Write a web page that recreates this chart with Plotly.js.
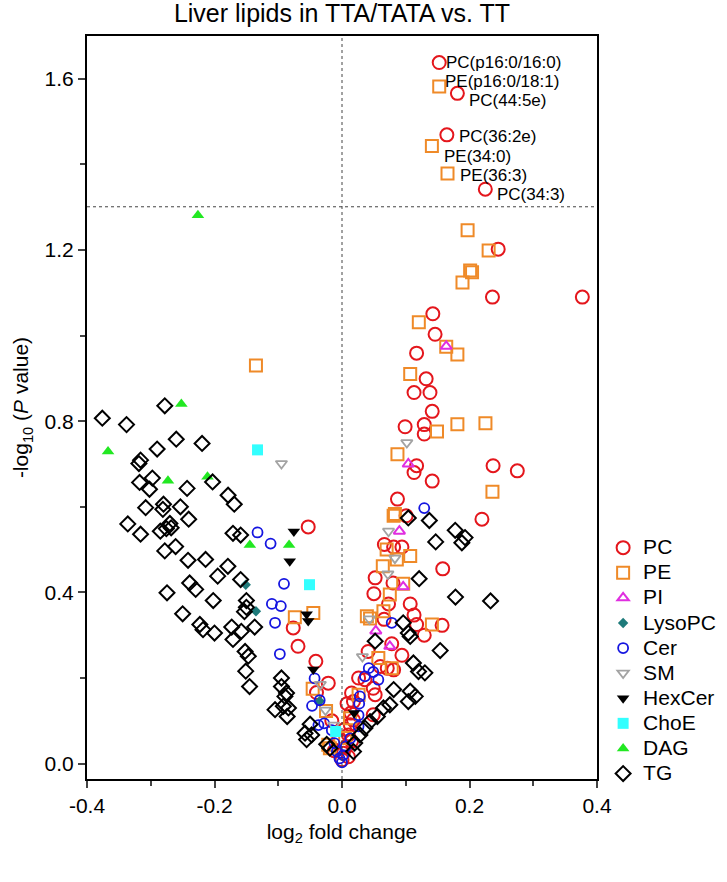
<!DOCTYPE html>
<html><head><meta charset="utf-8">
<script src="https://cdn.plot.ly/plotly-3.0.1.min.js"></script>
<style>html,body{margin:0;padding:0;background:#fff}#chart{width:727px;height:882px}</style>
</head><body><div id="chart"></div>
<script>
// ---- data (log2 fold change, -log10 P) ----
const pcX = [0.1525,0.181,0.1645,0.2248,0.245,0.236,0.377,0.1425,0.146,0.117,0.132,0.113,0.138,0.1415,
 0.099,0.129,0.129,0.117,0.113,0.237,0.275,0.1415,0.087,0.1006,0.2195,0.0665,0.081,0.094,0.158,0.052,0.080,0.050,
 0.073,0.107,0.113,0.066,0.117,0.129,0.157,0.078,0.094,0.041,0.060,0.071,0.081,0.026,0.036,0.049,0.052,0.015,0.018,0.049,0.014,0.018,0.013,0.010,0.015,0.007,0.002,0.010,0.000,
 -0.053,-0.0765,-0.069,-0.041,-0.0215,-0.040,-0.005,-0.012,-0.016,0.008,0.004];
const pcY = [1.638,1.566,1.469,1.342,1.202,1.090,1.090,1.051,1.003,0.959,0.899,0.867,0.867,0.823,
 0.787,0.792,0.770,0.696,0.680,0.696,0.684,0.660,0.618,0.579,0.571,0.512,0.506,0.506,0.455,0.434,0.422,0.397,
 0.373,0.373,0.347,0.337,0.325,0.300,0.323,0.280,0.253,0.262,0.227,0.223,0.219,0.200,0.196,0.176,0.161,0.165,0.145,0.114,0.118,0.102,0.091,0.067,0.052,0.040,0.024,0.016,0.009,
 0.553,0.317,0.274,0.239,0.188,0.166,0.060,0.030,0.100,0.140,0.080];
const peX = [0.1525,0.141,0.1655,0.197,0.230,0.201,0.204,0.189,0.1205,0.1635,0.181,0.107,
 0.149,0.181,0.225,0.087,0.236,0.083,0.081,0.070,0.107,0.086,0.064,0.096,0.075,
 0.039,0.044,0.065,0.141,0.078,0.057,0.026,0.0126,0.005,
 -0.135,-0.074,-0.045,-0.046,-0.025,-0.0215,-0.019];
const peY = [1.582,1.443,1.379,1.246,1.199,1.152,1.148,1.124,1.031,0.974,0.956,0.910,
 0.776,0.793,0.795,0.723,0.635,0.583,0.579,0.500,0.485,0.477,0.461,0.420,0.395,
 0.344,0.339,0.356,0.325,0.223,0.247,0.161,0.106,0.060,
 0.930,0.342,0.352,0.175,0.123,0.044,0.036];
const piX = [0.1635,0.104,0.090,0.096,0.053,0.075];
const piY = [0.975,0.700,0.543,0.413,0.310,0.274];
const lysoX = [-0.151,-0.135,-0.035];
const lysoY = [0.418,0.356,0.146];
const cerX = [-0.1325,-0.112,-0.091,-0.110,-0.096,-0.105,-0.0975,-0.043,-0.035,-0.047,-0.037,-0.028,-0.016,-0.012,-0.008,-0.004,0.000,
 0.129,0.078,0.042,0.049,0.057,0.036,0.028,0.027,0.026,0.026,0.013,0.006,0.002];
const cerY = [0.540,0.514,0.420,0.373,0.368,0.329,0.256,0.199,0.148,0.135,0.090,0.094,0.078,0.048,0.028,0.012,0.003,
 0.597,0.329,0.223,0.214,0.196,0.204,0.157,0.140,0.113,0.087,0.059,0.040,0.020];
const smX = [-0.095,0.1017,0.073,0.083,0.072,0.043,0.032,-0.034,-0.026,-0.013];
const smY = [0.701,0.750,0.543,0.480,0.443,0.338,0.250,0.185,0.125,0.090];
const hexX = [-0.0755,-0.082,-0.0555,-0.053,-0.045,0.019];
const hexY = [0.542,0.473,0.349,0.333,0.220,0.118];
const choX = [-0.1325,-0.051,-0.010];
const choY = [0.733,0.418,0.075];
const dagX = [-0.226,-0.367,-0.252,-0.273,-0.211,-0.1446,-0.083];
const dagY = [1.281,0.729,0.840,0.661,0.670,0.511,0.511];
const tgX = [-0.376,-0.338,-0.278,-0.260,-0.290,-0.2195,-0.316,-0.3186,-0.2975,-0.3175,-0.302,-0.243,-0.203,-0.1787,-0.169,
 -0.308,-0.280,-0.281,-0.2535,-0.336,-0.316,-0.2405,-0.270,-0.2755,-0.285,-0.268,-0.278,-0.261,-0.2415,-0.214,
 -0.171,-0.159,-0.179,-0.195,-0.159,-0.239,-0.2295,-0.2745,-0.202,-0.150,-0.150,-0.153,-0.25,
 -0.137,-0.223,-0.218,-0.200,-0.173,-0.171,-0.158,-0.152,-0.147,-0.151,-0.145,-0.095,-0.095,-0.087,-0.0895,
 -0.105,-0.092,-0.084,-0.086,-0.050,-0.058,-0.0476,-0.0555,-0.024,-0.019,
 0.104,0.137,0.1776,0.193,0.188,0.147,0.121,0.178,0.233,0.154,0.096,0.104,0.107,0.112,0.130,0.120,
 0.107,0.115,0.104,0.081,0.075,0.065,0.0555,0.044,0.036,0.028,0.020,0.018,0.052];
const tgY = [0.807,0.792,0.836,0.758,0.735,0.748,0.709,0.701,0.667,0.657,0.641,0.643,0.658,0.627,0.606,
 0.598,0.606,0.594,0.600,0.560,0.536,0.571,0.561,0.549,0.543,0.551,0.497,0.507,0.475,0.477,
 0.538,0.534,0.461,0.438,0.430,0.422,0.407,0.399,0.381,0.381,0.365,0.355,0.350,
 0.319,0.325,0.313,0.305,0.319,0.290,0.309,0.262,0.251,0.216,0.180,0.200,0.180,0.165,0.157,
 0.126,0.134,0.130,0.110,0.092,0.071,0.067,0.056,0.045,0.036,
 0.574,0.568,0.545,0.528,0.516,0.518,0.432,0.389,0.380,0.264,0.329,0.305,0.297,0.235,0.212,0.215,
 0.169,0.157,0.145,0.173,0.1375,0.130,0.110,0.098,0.083,0.067,0.048,0.028,0.286];
const labelText = ["PC(p16:0/16:0)","PE(p16:0/18:1)","PC(44:5e)","PC(36:2e)","PE(34:0)","PE(36:3)","PC(34:3)"];
const labelX = [0.1525,0.1525,0.181,0.1645,0.141,0.1655,0.2248];
const labelY = [1.638,1.582,1.566,1.469,1.443,1.379,1.342];
const xTicks = [-0.4,-0.2,0.0,0.2,0.4];
const xTickText = ["-0.4","-0.2","0.0","0.2","0.4"];
const yTicks = [0.0,0.4,0.8,1.2,1.6];
const yTickText = ["0.0","0.4","0.8","1.2","1.6"];
const pThreshold = 1.301;

// ---- styling ----
const labelShift = [[5,0],[4,5],[10,-7],[10,-2],[10,-11],[10,-2],[10,-5]];
const LF = "<span style='font-size:21px'>";
function tr(name,x,y,symbol,size,color,lw){
  const open = symbol.indexOf('open')>=0;
  return {type:'scatter',mode:'markers',name:LF+name+'</span>',x:x,y:y,cliponaxis:false,
    marker:{symbol:symbol,size:size,color:color,line:{color:color,width:open?lw:0}}};
}
const data = [
  tr('PC',pcX,pcY,'circle-open',13,'#e4161c',2),
  tr('PE',peX,peY,'square-open',12,'#ef8a28',2),
  tr('PI',piX,piY,'triangle-up-open',10,'#e02ee0',2),
  tr('LysoPC',lysoX,lysoY,'diamond',8,'#1e7b7b',0),
  tr('Cer',cerX,cerY,'circle-open',10,'#1515e0',1.8),
  tr('SM',smX,smY,'triangle-down-open',10,'#a3a3a3',1.8),
  tr('HexCer',hexX,hexY,'triangle-down',11,'#000000',0),
  tr('ChoE',choX,choY,'square',11,'#33ffff',0),
  tr('DAG',dagX,dagY,'triangle-up',11,'#22e822',0),
  tr('TG',tgX,tgY,'diamond-open',11.5,'#000000',2)
];
const font = {family:'Liberation Sans, Arial, sans-serif',color:'#000'};
const layout = {
  width:727,height:882,
  margin:{l:87,r:130,t:36,b:103,autoexpand:false},
  paper_bgcolor:'#fff',plot_bgcolor:'#fff',
  font:Object.assign({size:21},font),
  title:{text:'Liver lipids in TTA/TATA vs. TT',x:0.5,xref:'paper',y:0.985,yanchor:'middle',font:Object.assign({size:25},font)},
  showlegend:true,
  legend:{x:1.012,xanchor:'left',y:0.335,yanchor:'top',font:Object.assign({size:17},font),bgcolor:'rgba(0,0,0,0)',itemclick:false},
  xaxis:{range:[-0.4,0.4],tickvals:xTicks,ticktext:xTickText,ticks:'outside',ticklen:7,tickwidth:2,
    showline:true,linewidth:2,linecolor:'#000',mirror:true,showgrid:false,zeroline:false,automargin:false,
    minor:{dtick:0.1,tick0:0,ticks:'outside',ticklen:5,tickwidth:2,showgrid:false},
    tickfont:Object.assign({size:21},font),
    title:{text:'log<sub>2</sub> fold change',font:Object.assign({size:21},font),standoff:8}},
  yaxis:{range:[-0.036,1.70],tickvals:yTicks,ticktext:yTickText,ticks:'outside',ticklen:7,tickwidth:2,
    showline:true,linewidth:2,linecolor:'#000',mirror:true,showgrid:false,zeroline:false,automargin:false,
    minor:{dtick:0.2,tick0:0,ticks:'outside',ticklen:5,tickwidth:2,showgrid:false},
    tickfont:Object.assign({size:21},font),
    title:{text:'-log<sub>10</sub> (<i>P</i> value)',font:Object.assign({size:21},font),standoff:10}},
  shapes:[
    {type:'line',xref:'paper',x0:0,x1:1,yref:'y',y0:pThreshold,y1:pThreshold,line:{color:'#444',width:1,dash:'dot'}},
    {type:'line',xref:'x',x0:0,x1:0,yref:'paper',y0:0,y1:1,line:{color:'#444',width:1,dash:'dot'}}
  ],
  annotations: labelText.map((t,i)=>({x:labelX[i],y:labelY[i],xref:'x',yref:'y',text:t,showarrow:false,
    xanchor:'left',yanchor:'middle',xshift:labelShift[i][0],yshift:labelShift[i][1],font:Object.assign({size:17},font)}))
};
Plotly.newPlot('chart',data,layout,{displayModeBar:false,staticPlot:true});
</script></body></html>
